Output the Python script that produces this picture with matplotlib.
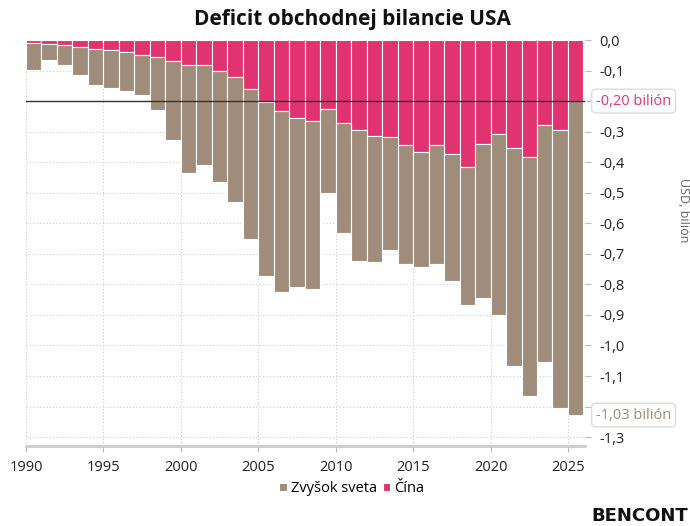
import matplotlib.pyplot as plt
import numpy as np
from matplotlib.ticker import FuncFormatter, MultipleLocator

plt.rcParams['font.family'] = ['Open Sans', 'DejaVu Sans']

# Data (USD, bilión)
years = list(range(1990, 2026))
china = [-0.009, -0.012, -0.016, -0.022, -0.028, -0.032, -0.038, -0.048, -0.055, -0.068,
         -0.083, -0.082, -0.101, -0.122, -0.160, -0.202, -0.232, -0.256, -0.266, -0.225,
         -0.272, -0.294, -0.314, -0.318, -0.344, -0.367, -0.345, -0.373, -0.416, -0.342,
         -0.307, -0.352, -0.382, -0.278, -0.294, -0.200]
rest = [-0.090, -0.052, -0.066, -0.092, -0.120, -0.125, -0.130, -0.131, -0.173, -0.259,
        -0.351, -0.328, -0.365, -0.408, -0.493, -0.569, -0.594, -0.551, -0.548, -0.277,
        -0.361, -0.430, -0.414, -0.370, -0.388, -0.376, -0.388, -0.417, -0.452, -0.502,
        -0.592, -0.715, -0.783, -0.775, -0.909, -1.028]

pink = '#E0336F'
taupe = '#A08C7A'

fig = plt.figure(figsize=(6.9, 5.26), dpi=100)
ax = fig.add_axes([26 / 690, 1 - 446 / 526, (585 - 26) / 690, (446 - 40) / 526])

ax.bar(years, china, width=1, align='edge', color=pink, edgecolor='white',
       linewidth=0.8, label='Čína', zorder=2)
ax.bar(years, rest, width=1, align='edge', bottom=china, color=taupe,
       edgecolor='white', linewidth=0.8, label='Zvyšok sveta', zorder=2)

# reference line at last China value
ax.axhline(china[-1], color='#333333', lw=1, zorder=3)

ax.set_xlim(1990, 2026.1)
ax.set_ylim(-1.329, 0)
ax.set_xticks(range(1990, 2026, 5))
ax.yaxis.set_major_locator(MultipleLocator(0.1))
ax.yaxis.tick_right()

# tick labels hidden behind the value boxes
hidden = [round(china[-1], 1), round(china[-1] + rest[-1], 1)]


def fmt(v, pos):
    if abs(v) < 1e-9:
        return '0,0'
    if any(abs(v - h) < 1e-6 for h in hidden):
        return ''
    return f'{v:.1f}'.replace('.', ',')


ax.yaxis.set_major_formatter(FuncFormatter(fmt))
ax.tick_params(axis='y', length=4, color='#bbbbbb', labelsize=10.5,
               labelcolor='#222222', pad=6)
ax.tick_params(axis='x', length=4, color='#bbbbbb', labelsize=10.5,
               labelcolor='#222222', pad=6)

for s in ['top', 'left', 'right']:
    ax.spines[s].set_visible(False)
ax.spines['bottom'].set_color('#cccccc')
ax.spines['bottom'].set_linewidth(2)

ax.grid(True, color='#cccccc', linestyle=(0, (1, 2)), linewidth=0.8, zorder=0)
ax.set_axisbelow(True)

# value labels on the right
ax.annotate('-0,20 bilión', xy=(1, china[-1]), xycoords=('axes fraction', 'data'),
            xytext=(11, 0), textcoords='offset pixels', va='center', ha='left',
            color=pink, fontsize=10.5, zorder=5,
            bbox=dict(boxstyle='round,pad=0.3', fc='white', ec='#dddddd', lw=1))
ax.annotate('-1,03 bilión', xy=(1, china[-1] + rest[-1]), xycoords=('axes fraction', 'data'),
            xytext=(11, 0), textcoords='offset pixels', va='center', ha='left',
            color=taupe, fontsize=10.5, zorder=5,
            bbox=dict(boxstyle='round,pad=0.3', fc='white', ec='#dddddd', lw=1))

fig.text(683 / 690, 1 - 210 / 526, 'USD, bilión', rotation=270, ha='center', va='center',
         fontsize=9, color='#666666')

fig.text(352 / 690, 1 - 20 / 526, 'Deficit obchodnej bilancie USA', ha='center',
         va='center', fontsize=15, fontweight='bold', color='#111111')

handles, labels = ax.get_legend_handles_labels()
fig.legend(handles[::-1], labels[::-1], loc='center', bbox_to_anchor=(352 / 690, 1 - 489 / 526),
           ncol=2, frameon=False, fontsize=10.5, handlelength=0.5, handleheight=0.5,
           handletextpad=0.3, columnspacing=0.4)

fig.text(688 / 690, 1 - 516 / 526, 'BENCONT', ha='right', va='center', fontsize=13,
         fontweight='bold', color='#111111', family='DejaVu Sans')

fig.savefig('out.png', dpi=100)
